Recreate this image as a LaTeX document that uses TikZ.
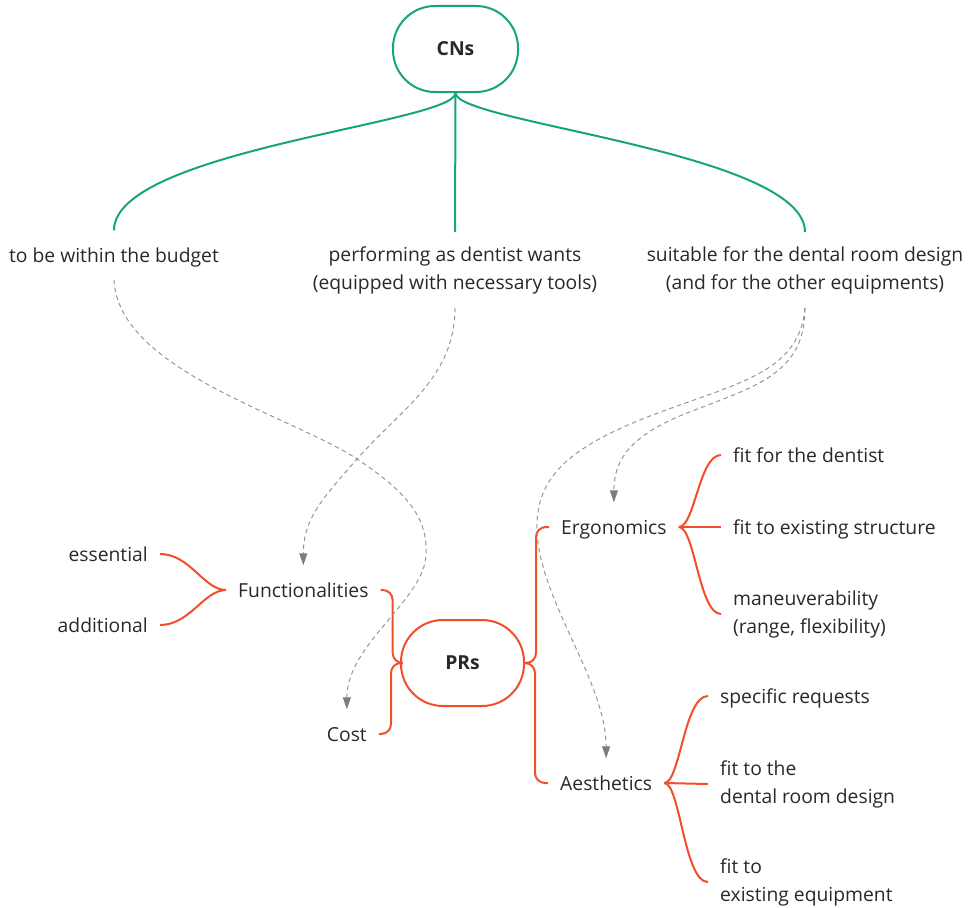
\documentclass[tikz,border=0pt]{standalone}
\usepackage{fontspec}
\setmainfont{Open Sans}
\usetikzlibrary{arrows.meta}
\definecolor{cngreen}{RGB}{22,163,128}
\definecolor{prred}{RGB}{242,78,43}
\definecolor{ink}{RGB}{40,40,40}
\definecolor{linkgray}{RGB}{150,150,150}
\definecolor{tipgray}{RGB}{125,125,125}
\begin{document}
\begin{tikzpicture}[x=1pt,y=-1pt,
  label/.style={inner xsep=12pt, inner ysep=15pt, text=ink,
    font=\fontsize{19.3}{28}\selectfont},
  oneline/.style={label, text height=17.4pt, text depth=1.6pt},
  twoline/.style={label, align=#1},
  topic/.style={draw=#1, line width=2pt, rounded corners=42pt,
    minimum height=86pt, inner sep=0pt, text=ink,
    font=\bfseries\fontsize{19.3}{24}\selectfont},
  cnlink/.style={draw=cngreen, line width=2pt},
  prbrace/.style={draw=prred, line width=2pt, rounded corners=10pt},
  prlink/.style={draw=prred, line width=2pt},
  trace/.style={draw=linkgray, line width=1pt, dash pattern=on 4.5pt off 3.5pt,
    -{Triangle[width=8pt,length=12pt,color=tipgray]}}]
\useasboundingbox (0,0) rectangle (971,907);

% central topics
\node[topic=cngreen, minimum width=125pt] (cns) at (455.5,49) {CNs};
\node[topic=prred, minimum width=123pt] (prs) at (462.5,663) {PRs};

% customer needs
\node[oneline] (budget) at (114,255) {to be within the budget};
\node[twoline=center, inner ysep=14pt] (perform) at (455,270) {performing as dentist wants\\(equipped with necessary tools)};
\node[twoline=center, inner ysep=14pt] (suitable) at (805,270) {suitable for the dental room design\\(and for the other equipments)};

% product requirements
\node[oneline, anchor=west] (func) at (226,590) {Functionalities};
\node[oneline, anchor=east] (cost) at (379,734) {Cost};
\node[oneline, anchor=east] (essential) at (160,554) {essential};
\node[oneline, anchor=east] (additional) at (160,625) {additional};
\node[oneline, anchor=west] (ergo) at (549,527) {Ergonomics};
\node[oneline, anchor=west] (aest) at (548,783) {Aesthetics};
\node[oneline, anchor=west] (fitdent) at (721,455) {fit for the dentist};
\node[oneline, anchor=west] (fitstruct) at (721,527) {fit to existing structure};
\node[twoline=left, anchor=west] (manuv) at (721,614) {maneuverability\\(range, flexibility)};
\node[oneline, anchor=west] (specreq) at (708,696) {specific requests};
\node[twoline=left, anchor=west] (fitroom) at (708,784) {fit to the\\dental room design};
\node[twoline=left, anchor=west] (fitequip) at (708,882) {fit to\\existing equipment};

% CNs tree
\draw[cnlink] (cns.south) .. controls +(0,30) and +(0,-80) .. (budget.north);
\draw[cnlink] (cns.south) -- (perform.north);
\draw[cnlink] (cns.south) .. controls +(0,30) and +(0,-80) .. (suitable.north);

% PRs braces
\draw[prbrace] (prs.west) -| ([xshift=12pt]func.east) -- (func.east);
\draw[prbrace] (prs.west) -| ([xshift=12pt]cost.east) -- (cost.east);
\draw[prbrace] (prs.east) -| ([xshift=-13pt]ergo.west) -- (ergo.west);
\draw[prbrace] (prs.east) -| ([xshift=-13pt]aest.west) -- (aest.west);

\draw[prlink] (func.west) .. controls +(-22,0) and +(30,0) .. (essential.east);
\draw[prlink] (func.west) .. controls +(-22,0) and +(30,0) .. (additional.east);

\draw[prlink] (ergo.east) .. controls +(16,0) and +(-22,0) .. (fitdent.west);
\draw[prlink] (ergo.east) -- (fitstruct.west);
\draw[prlink] (ergo.east) .. controls +(16,0) and +(-22,0) .. (manuv.west);

\draw[prlink] (aest.east) .. controls +(16,0) and +(-24,0) .. (specreq.west);
\draw[prlink] (aest.east) -- (fitroom.west);
\draw[prlink] (aest.east) .. controls +(16,0) and +(-24,0) .. (fitequip.west);

% traceability links from needs to requirements
\draw[trace] (budget.south) .. controls (118,370) and (290,415) .. (357,459)
  .. controls (410,494) and (428,520) .. (426,555)
  .. controls (424,600) and +(0,-65) .. (cost.north);
\draw[trace] (perform.south) .. controls +(0,70) and (400,410) .. (357,459)
  .. controls (320,501) and +(0,-45) .. (func.north);
\draw[trace] (suitable.south) .. controls +(0,63) and (760,385) .. (700,408)
  .. controls (640,430) and +(0,-50) .. (ergo.north);
\draw[trace] (suitable.south) .. controls +(-5,58) and (750,380) .. (680,405)
  .. controls (580,440) and (535,470) .. (537,530)
  .. controls (539,600) and +(0,-77) .. (aest.north);
\end{tikzpicture}
\end{document}
